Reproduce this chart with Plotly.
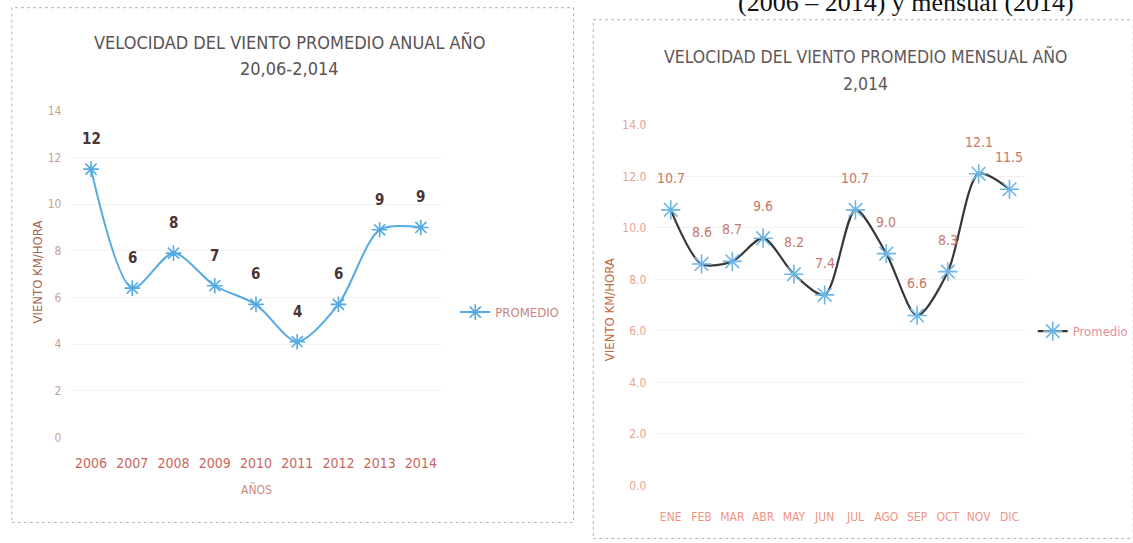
import plotly.graph_objects as go

W, H = 1133, 543

# ---------------- data ----------------
years = ["2006", "2007", "2008", "2009", "2010", "2011", "2012", "2013", "2014"]
annual_avg = [11.5, 6.4, 7.9, 6.5, 5.7, 4.1, 5.7, 8.9, 9.0]
annual_labels = ["12", "6", "8", "7", "6", "4", "6", "9", "9"]

months = ["ENE", "FEB", "MAR", "ABR", "MAY", "JUN", "JUL", "AGO", "SEP", "OCT", "NOV", "DIC"]
monthly_avg = [10.7, 8.6, 8.7, 9.6, 8.2, 7.4, 10.7, 9.0, 6.6, 8.3, 12.1, 11.5]

left_yticks = [0, 2, 4, 6, 8, 10, 12, 14]
right_yticks = [0, 2, 4, 6, 8, 10, 12, 14]

title_left = ["VELOCIDAD DEL VIENTO PROMEDIO ANUAL AÑO", "20,06-2,014"]
title_right = ["VELOCIDAD DEL VIENTO PROMEDIO MENSUAL AÑO", "2,014"]
header_text = "(2006 – 2014) y mensual (2014)"


def px(x):
    return (x / 0.987) / W


def py(y):
    return 1 - ((y - 7.3) / 0.9728) / H


NARROW = "Liberation Sans Narrow, DejaVu Sans Condensed, Roboto Condensed, Arial Narrow, sans-serif"

fig = go.Figure()

fig.add_trace(go.Scatter(
    x=years, y=annual_avg, mode="lines+markers", name="PROMEDIO",
    line=dict(color="#55AAE2", width=2, shape="spline", smoothing=0.8),
    marker=dict(symbol="asterisk-open", size=13, color="#55AAE2",
                line=dict(width=1.6, color="#55AAE2")),
    xaxis="x", yaxis="y", legend="legend",
))

fig.add_trace(go.Scatter(
    x=months, y=monthly_avg, mode="lines+markers", name="Promedio",
    line=dict(color="#383838", width=2.2, shape="spline", smoothing=0.8),
    marker=dict(symbol="asterisk-open", size=16, color="#6CB6E6",
                line=dict(width=1.6, color="#6CB6E6")),
    xaxis="x2", yaxis="y2", legend="legend2",
))

annotations = []
# data labels (left) - category index positions
for i, (yv, lab) in enumerate(zip(annual_avg, annual_labels)):
    annotations.append(dict(
        x=i, y=yv, xref="x", yref="y", text=lab,
        showarrow=False, yshift=30, xanchor="center", yanchor="middle",
        font=dict(family=NARROW, size=15, color="#4A3434", weight="bold"),
    ))
# data labels (right)
for i, yv in enumerate(monthly_avg):
    annotations.append(dict(
        x=i, y=yv, xref="x2", yref="y2", text=f"{yv:.1f}",
        showarrow=False, yshift=32, xanchor="center", yanchor="middle",
        font=dict(family=NARROW, size=14, color="#C8766A"),
    ))

T = dict(xref="paper", yref="paper", showarrow=False, xanchor="center", yanchor="middle")
annotations += [
    dict(x=px(294), y=py(43), text=title_left[0],
         font=dict(family=NARROW, size=18, color="#5C5252"), **T),
    dict(x=px(294), y=py(69), text=title_left[1],
         font=dict(family=NARROW, size=18, color="#5C5252"), **T),
    dict(x=px(878), y=py(57), text=title_right[0],
         font=dict(family=NARROW, size=17.5, color="#605858"), **T),
    dict(x=px(878), y=py(84), text=title_right[1],
         font=dict(family=NARROW, size=17.5, color="#605858"), **T),
    # axis titles
    dict(x=px(38), y=py(272), text="VIENTO KM/HORA", textangle=-90,
         font=dict(family=NARROW, size=13, color="#A8684E"), **T),
    dict(x=px(260), y=py(489), text="AÑOS",
         font=dict(family=NARROW, size=12, color="#D0887A"), **T),
    dict(x=px(618), y=py(310), text="VIENTO KM/HORA", textangle=-90,
         font=dict(family=NARROW, size=13, color="#C4683E"), **T),
]
# header text cut at top edge
annotations.append(dict(
    x=px(1092), y=py(3), xref="paper", yref="paper", text=header_text, showarrow=False,
    xanchor="right", yanchor="middle",
    font=dict(family="Liberation Serif, DejaVu Serif, serif", size=26, color="#111111")))

shapes = [
    dict(type="rect", xref="paper", yref="paper", x0=px(12), x1=px(582), y0=py(522), y1=py(8),
         line=dict(color="#B4B4B4", width=1, dash="dot")),
    dict(type="rect", xref="paper", yref="paper", x0=px(602), x1=px(1150), y0=py(538), y1=py(20),
         line=dict(color="#B4B4B4", width=1, dash="dot")),
]

fig.update_layout(
    width=W, height=H,
    margin=dict(l=0, r=0, t=0, b=0),
    paper_bgcolor="white", plot_bgcolor="white",
    showlegend=True,
    annotations=annotations,
    shapes=shapes,
    xaxis=dict(domain=[px(71.5), px(448)], anchor="y", type="category", range=[-0.5, 8.5],
               showgrid=False, showline=False, zeroline=False, ticks="",
               tickfont=dict(family=NARROW, size=14, color="#C8665E"), ticklabelstandoff=16),
    yaxis=dict(domain=[py(437), py(111)], anchor="x", range=[0, 14], tickvals=left_yticks,
               showgrid=True, gridcolor="#F1F1F1", gridwidth=1, zeroline=False, showline=False, ticks="",
               tickfont=dict(family=NARROW, size=12, color="#C8A098"), ticklabelstandoff=8),
    xaxis2=dict(domain=[px(665), px(1040)], anchor="y2", type="category", range=[-0.5, 11.5],
                showgrid=False, showline=False, zeroline=False, ticks="",
                tickfont=dict(family=NARROW, size=12, color="#F09482"), ticklabelstandoff=23),
    yaxis2=dict(domain=[py(485), py(125)], anchor="x2", range=[0, 14], tickvals=right_yticks,
                tickformat=".1f",
                showgrid=True, gridcolor="#F1F1F1", gridwidth=1, zeroline=False, showline=False, ticks="",
                tickfont=dict(family=NARROW, size=12, color="#E8A48C"), ticklabelstandoff=8),
    legend=dict(x=px(462), y=py(312), xanchor="left", yanchor="middle", bgcolor="rgba(0,0,0,0)",
                font=dict(family=NARROW, size=13, color="#C88282")),
    legend2=dict(x=px(1048), y=py(331), xanchor="left", yanchor="middle", bgcolor="rgba(0,0,0,0)",
                 font=dict(family=NARROW, size=13, color="#E0909C")),
)

fig.write_html("out.html", config={"displayModeBar": False},
               post_script="document.body.style.margin='0';document.body.style.overflow='hidden';")
